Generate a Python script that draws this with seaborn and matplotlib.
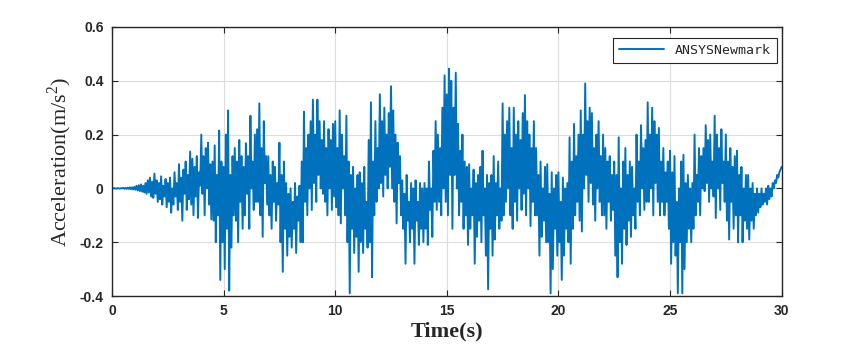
import numpy as np
import pandas as pd
import matplotlib
matplotlib.use("Agg")
import matplotlib.pyplot as plt
import seaborn as sns

# acceleration record, one value every 0.05 s (0 .. 30 s)
dt = 0.05
acc = [
    0, 0, 0.001, 0, -0.001, 0.001, 0, -0.001, 0.001, 0,
    0.002, -0.001, 0.002, -0.002, 0.003, -0.002, 0.004, -0.003, 0.004, -0.004,
    0.006, -0.005, 0.01, -0.008, 0.012, -0.01, 0.015, -0.012, 0.01, -0.015,
    0.02, -0.02, 0.03, -0.015, 0.04, -0.03, 0.025, -0.035, 0.055, -0.02,
    0.03, -0.05, 0.02, -0.04, 0.045, -0.06, 0.01, -0.03, 0.035, -0.07,
    0.02, -0.05, 0.04, -0.09, 0.0, -0.06, 0.06, -0.03, 0.02, -0.08,
    0.09, -0.05, 0.04, -0.12, 0.07, -0.02, 0.1, -0.08, 0.05, -0.04,
    0.137, -0.06, 0.11, -0.1, 0.08, -0.03, 0.12, -0.11, 0.06, 0.01,
    0.2, -0.02, 0.12, -0.1, 0.15, 0.0, 0.17, -0.06, 0.09, -0.115,
    0.1, -0.12, 0.16, -0.2, 0.05, -0.1, 0.215, -0.34, 0.1, -0.2,
    0.08, -0.3, 0.2, -0.15, 0.29, -0.38, 0.05, -0.22, 0.12, -0.1,
    0.15, -0.12, 0.1, -0.2, 0.18, -0.05, 0.12, -0.15, 0.08, -0.1,
    0.168, -0.02, 0.12, -0.15, 0.27, 0.0, 0.1, -0.08, 0.2, -0.05,
    0.22, -0.05, 0.316, -0.1, 0.15, -0.18, 0.25, 0.02, 0.12, -0.06,
    0.12, -0.1, 0.05, -0.15, 0.1, -0.05, 0.08, -0.12, 0.02, -0.06,
    0.17, -0.2, 0.05, -0.31, 0.1, -0.15, 0.02, -0.25, -0.02, -0.18,
    0.0, -0.22, -0.05, -0.15, 0.02, -0.24, -0.03, -0.12, 0.01, -0.2,
    0.1, -0.2, 0.285, -0.05, 0.15, -0.1, 0.2, 0.0, 0.25, -0.08,
    0.33, 0.02, 0.2, -0.05, 0.33, 0.05, 0.25, 0.0, 0.18, -0.02,
    0.25, -0.05, 0.15, -0.1, 0.22, 0.0, 0.18, -0.08, 0.24, -0.03,
    0.25, -0.07, 0.15, -0.1, 0.29, -0.13, 0.2, 0.0, 0.12, -0.1,
    0.27, -0.2, 0.1, -0.39, 0.05, -0.15, 0.08, -0.24, 0.0, -0.18,
    0.05, -0.31, 0.06, -0.2, 0.02, -0.24, 0.08, -0.15, -0.05, -0.22,
    0.18, -0.2, 0.32, -0.33, 0.1, -0.1, 0.25, -0.05, 0.15, 0.0,
    0.35, 0.02, 0.25, -0.03, 0.3, 0.05, 0.2, 0.0, 0.28, 0.08,
    0.38, 0.0, 0.29, -0.05, 0.2, -0.13, 0.17, 0.02, 0.12, -0.1,
    0.03, -0.15, -0.02, -0.28, 0.05, -0.12, -0.05, -0.2, 0.02, -0.15,
    0.0, -0.28, 0.03, -0.12, -0.05, -0.21, 0.02, -0.15, 0.0, -0.2,
    0.02, -0.15, 0.0, -0.21, 0.1, -0.08, 0.0, -0.18, 0.14, -0.05,
    0.25, -0.08, 0.2, -0.05, 0.15, -0.1, 0.3, 0.0, 0.42, -0.05,
    0.35, -0.1, 0.445, 0.05, 0.4, -0.15, 0.3, 0.05, 0.43, 0.0,
    0.24, -0.1, 0.14, -0.05, 0.2, -0.15, 0.1, -0.1, 0.08, -0.21,
    0.09, -0.15, 0.0, -0.1, 0.07, -0.28, 0.02, -0.18, 0.05, -0.12,
    0.08, -0.2, 0.14, -0.1, 0.0, -0.25, 0.05, -0.375, 0.02, -0.15,
    0.05, -0.25, 0.12, -0.19, 0.02, -0.1, 0.1, -0.15, 0.0, -0.12,
    0.316, -0.1, 0.2, -0.05, 0.25, 0.0, 0.3, -0.1, 0.15, -0.15,
    0.3, -0.05, 0.2, -0.12, 0.25, 0.0, 0.18, -0.08, 0.28, -0.02,
    0.347, -0.1, 0.25, 0.0, 0.2, -0.14, 0.15, -0.05, 0.25, -0.1,
    0.15, -0.1, 0.05, -0.25, 0.1, -0.18, 0.0, -0.12, 0.08, -0.2,
    0.09, -0.2, -0.02, -0.39, 0.06, -0.3, 0.0, -0.15, 0.05, -0.25,
    0.06, -0.2, -0.05, -0.34, 0.04, -0.25, 0.0, -0.15, 0.02, -0.2,
    0.19, -0.28, 0.1, -0.15, 0.24, -0.1, 0.12, -0.05, 0.2, -0.12,
    0.29, -0.16, 0.2, 0.0, 0.39, 0.05, 0.25, -0.05, 0.3, 0.02,
    0.28, -0.06, 0.15, -0.12, 0.2, 0.0, 0.25, -0.05, 0.12, -0.1,
    0.2, -0.1, 0.15, -0.15, 0.1, -0.05, 0.12, -0.12, 0.05, -0.08,
    0.1, -0.25, 0.05, -0.33, 0.19, -0.2, 0.0, -0.28, 0.1, -0.15,
    0.15, -0.21, 0.05, -0.12, 0.1, -0.18, 0.08, -0.1, 0.0, -0.15,
    0.2, -0.05, 0.1, -0.1, 0.235, 0.0, 0.15, -0.08, 0.18, -0.05,
    0.32, -0.05, 0.2, 0.0, 0.3, -0.1, 0.25, 0.02, 0.2, -0.05,
    0.225, -0.1, 0.1, -0.05, 0.15, -0.1, 0.06, -0.05, 0.1, -0.15,
    0.14, -0.28, 0.06, -0.2, 0.12, -0.25, -0.05, -0.39, 0.0, -0.2,
    0.1, -0.39, 0.125, -0.3, 0.02, -0.2, 0.05, -0.15, 0.0, -0.2,
    0.02, -0.15, 0.2, -0.1, 0.05, -0.05, 0.15, -0.1, 0.12, 0.0,
    0.15, -0.01, 0.235, 0.02, 0.18, -0.05, 0.2, 0.0, 0.1, -0.03,
    0.27, -0.11, 0.2, 0.0, 0.15, -0.08, 0.22, 0.02, 0.1, -0.05,
    0.2, -0.12, 0.1, -0.19, 0.15, -0.05, 0.08, -0.15, 0.12, -0.1,
    0.14, -0.2, 0.05, -0.1, 0.08, -0.2, 0.0, -0.12, 0.05, -0.15,
    0.05, -0.19, 0.0, -0.12, 0.02, -0.15, -0.02, -0.1, 0.0, -0.09,
    -0.02, -0.07, 0.0, -0.06, -0.02, -0.05, 0.0, -0.06, 0.01, -0.04,
    0.0, -0.03, 0.02, 0.0, 0.03, 0.02, 0.05, 0.04, 0.06, 0.07,
    0.08,
]
series_name = "ANSYSNewmark"
x_ticks = [0, 5, 10, 15, 20, 25, 30]
y_ticks = [-0.4, -0.2, 0, 0.2, 0.4, 0.6]
y_tick_labels = ["-0.4", "-0.2", "0", "0.2", "0.4", "0.6"]

df = pd.DataFrame({"time": np.arange(len(acc)) * dt, "acc": acc})

sns.set_style("ticks")
plt.rcParams["font.family"] = ["Liberation Sans", "DejaVu Sans"]
plt.rcParams["mathtext.fontset"] = "custom"
plt.rcParams["mathtext.rm"] = "Liberation Serif"

fig = plt.figure(figsize=(8.63, 3.52), dpi=100)
ax = fig.add_axes([0.1298, 0.159, 0.7759, 0.7643])

sns.lineplot(data=df, x="time", y="acc", color="#0072BD", linewidth=1.4,
             label=series_name, ax=ax)

ax.set_xlim(0, 30)
ax.set_ylim(-0.4, 0.6)
ax.set_xticks(x_ticks)
ax.set_yticks(y_ticks)
ax.set_yticklabels(y_tick_labels)
ax.grid(True, color="#dcdcdc", linewidth=0.8)
ax.set_axisbelow(True)

for s in ax.spines.values():
    s.set_visible(True)
    s.set_color("#262626")
    s.set_linewidth(1.0)
ax.tick_params(direction="in", top=True, right=True, length=4, color="#262626",
               labelsize=10, pad=6)
for lab in ax.get_xticklabels() + ax.get_yticklabels():
    lab.set_fontweight("bold")

ax.set_xlabel("Time(s)", fontfamily="Liberation Serif", fontsize=16,
              fontweight="bold", labelpad=2)
ax.set_ylabel("Acceleration(m/s$^2$)", fontfamily="Liberation Serif", fontsize=16,
              labelpad=4)

leg = ax.legend(loc="upper right", bbox_to_anchor=(0.9925, 0.96), borderaxespad=0,
                frameon=True, fancybox=False, edgecolor="#262626", framealpha=1,
                prop={"family": "DejaVu Sans Mono", "size": 9.5},
                handlelength=3.4, borderpad=0.45)
leg.get_frame().set_linewidth(0.8)

fig.savefig("out.png", dpi=100)
